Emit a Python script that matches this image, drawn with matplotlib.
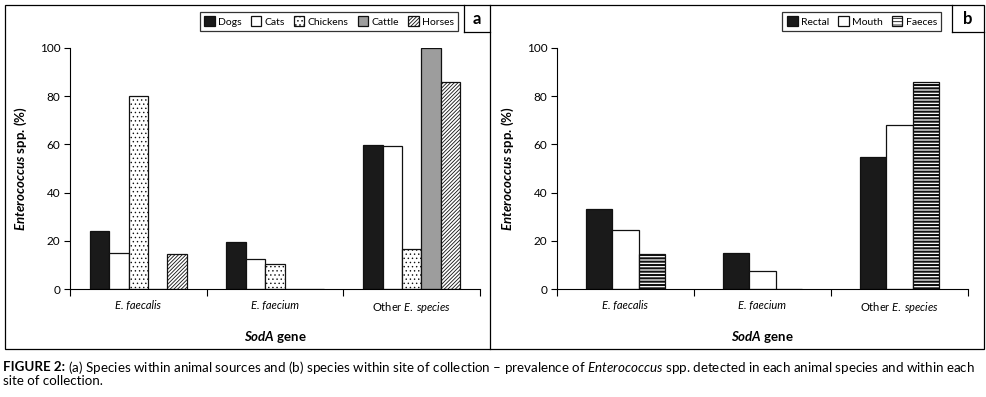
import matplotlib
matplotlib.use("Agg")
import matplotlib.pyplot as plt
import numpy as np
from matplotlib.patches import Rectangle
from matplotlib.transforms import offset_copy

plt.rcParams['font.family'] = ['Lato', 'DejaVu Sans']
plt.rcParams['mathtext.fontset'] = 'custom'
plt.rcParams['mathtext.rm'] = 'Lato'
plt.rcParams['mathtext.it'] = 'Lato:italic'
plt.rcParams['mathtext.bf'] = 'Lato:bold'
plt.rcParams['mathtext.bfit'] = 'Lato:italic:bold'
plt.rcParams['hatch.linewidth'] = 0.6

# dados
categories = ['E. faecalis', 'E. faecium', r'Other $\mathit{E.\:species}$']

animals = ['Dogs', 'Cats', 'Chickens', 'Cattle', 'Horses']
dogs = [24.0, 19.4, 59.7]
cats = [14.8, 12.3, 59.3]
chickens = [80.0, 10.2, 16.5]
cattle = [0.0, 0.0, 100.0]
horses = [14.4, 0.0, 85.9]

sites = ['Rectal', 'Mouth', 'Faeces']
rectal = [33.4, 14.8, 54.8]
mouth = [24.4, 7.3, 68.0]
faeces = [14.4, 0.0, 85.9]

W, H = 987, 397


def fig_rect(x0, y0, x1, y1):
    # pixels (origem topo-esquerda) -> fracao da figura
    return [x0 / W, 1 - y1 / H, (x1 - x0) / W, (y1 - y0) / H]


def draw_panel(fig, rect, series, names, styles, width, legend_px, tag, tag_px):
    ax = fig.add_axes(rect)
    x = np.arange(len(categories))
    n = len(series)
    for i, (vals, name, st) in enumerate(zip(series, names, styles)):
        off = (i - (n - 1) / 2) * width
        bars = ax.bar(x + off, vals, width, label=name, facecolor=st[0], hatch=st[1],
                      edgecolor='#111111', linewidth=0.9)
        for b in bars:
            if hasattr(b, 'set_hatch_linewidth'):
                b.set_hatch_linewidth(st[2])

    ax.set_xlim(-0.5, len(categories) - 0.5)
    ax.set_ylim(0, 100)
    ax.set_yticks(np.arange(0, 101, 20))
    ax.set_xticks(np.arange(-0.5, len(categories), 1.0))
    ax.set_xticklabels([])
    ax.set_xticks(x, minor=True)
    labs = ax.set_xticklabels(categories, minor=True, fontsize=8)
    for lab in labs[:2]:
        lab.set_fontstyle('italic')
    ax.tick_params(axis='x', which='minor', length=0, pad=8)
    ax.tick_params(axis='x', which='major', length=5, width=0.8, direction='out')
    ax.tick_params(axis='y', length=4, width=0.8, labelsize=8.5, pad=3)
    for s in ['top', 'right']:
        ax.spines[s].set_visible(False)
    for s in ['left', 'bottom']:
        ax.spines[s].set_linewidth(0.8)

    ax.set_xlabel(r'$\mathbfit{SodA}$ gene', fontsize=9.5, fontweight='bold', labelpad=10)
    ax.set_ylabel(r'$\mathbfit{Enterococcus}$ spp. (%)', fontsize=9.5, fontweight='bold', labelpad=8)

    # legenda no topo
    lx0, ly0, lx1, ly1 = legend_px
    handles, labels = ax.get_legend_handles_labels()
    leg = fig.legend(handles, labels, loc='center',
                     bbox_to_anchor=((lx0 + lx1) / 2 / W, 1 - (ly0 + ly1) / 2 / H),
                     ncol=n, fontsize=7.5, frameon=True, fancybox=False, edgecolor='black',
                     handlelength=1.0, handleheight=1.0, handletextpad=0.3, columnspacing=0.9,
                     borderpad=0.45, borderaxespad=0)
    leg.get_frame().set_linewidth(0.9)

    # caixa da letra
    tx0, ty1, tx1 = tag_px
    fig.add_artist(plt.Line2D([tx0 / W, tx0 / W], [1 - 5 / H, 1 - ty1 / H], color='black', lw=0.9))
    fig.add_artist(plt.Line2D([tx0 / W, tx1 / W], [1 - ty1 / H, 1 - ty1 / H], color='black', lw=0.9))
    fig.text((tx0 + tx1) / 2 / W, 1 - (5 + ty1) / 2 / H, tag, ha='center', va='center',
             fontsize=12, fontweight='bold')
    return ax


fig = plt.figure(figsize=(W / 100, H / 100), dpi=100)

# molduras
fig.add_artist(Rectangle((5 / W, 1 - 349 / H), (984 - 5) / W, (349 - 5) / H,
                         transform=fig.transFigure, fill=False, edgecolor='black', lw=0.9))
fig.add_artist(plt.Line2D([490 / W, 490 / W], [1 - 5 / H, 1 - 349 / H], color='black', lw=0.9))

styles_a = [('#1a1a1a', None, 0.6), ('white', None, 0.6), ('white', '....', 0.5),
            ('#9d9d9d', None, 0.6), ('white', '/////////', 0.6)]
draw_panel(fig, fig_rect(70, 48, 480, 289), [dogs, cats, chickens, cattle, horses], animals,
           styles_a, 0.142, (199, 11, 459, 32), 'a', (464, 32, 490))

styles_b = [('#1a1a1a', None, 0.6), ('white', None, 0.6), ('white', '-----', 1.5)]
draw_panel(fig, fig_rect(557, 48, 968, 289), [rectal, mouth, faeces], sites,
           styles_b, 0.192, (778, 11, 946, 32), 'b', (952, 32, 984))

# legenda da figura: parte em negrito e resto logo a seguir
head = fig.text(3 / W, 1 - 367 / H, 'FIGURE 2:', fontsize=9.6, fontweight='bold',
                va='center', ha='left')
renderer = fig.canvas.get_renderer()
hw = head.get_window_extent(renderer).width
rest = (r' (a) Species within animal sources and (b) species within site of collection '
        r'– prevalence of $\mathit{Enterococcus}$ spp. detected in each animal species and within each')
fig.text(3 / W, 1 - 367 / H, rest, fontsize=9.6, va='center', ha='left',
         transform=offset_copy(fig.transFigure, fig=fig, x=hw, y=0, units='dots'))
fig.text(3 / W, 1 - 381 / H, 'site of collection.', fontsize=9.6, va='center', ha='left')

fig.savefig('out.png', dpi=100)
